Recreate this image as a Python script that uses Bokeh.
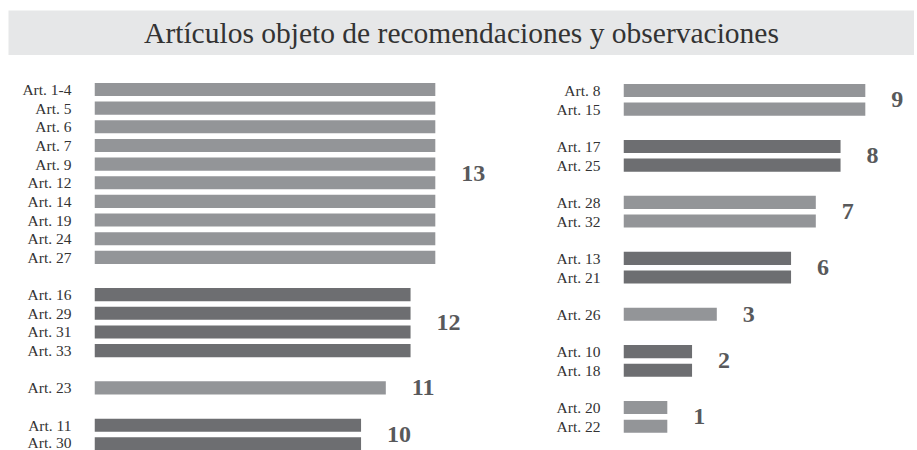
from bokeh.plotting import figure
from bokeh.layouts import column, row
from bokeh.models import Range1d, FixedTicker, ColumnDataSource
from bokeh.core.properties import value
from bokeh.embed import file_html
from bokeh.resources import INLINE

TITLE = "Artículos objeto de recomendaciones y observaciones"

left_counts = [13, 12, 11, 10]
left_articles = [
    ["Art. 1-4", "Art. 5", "Art. 6", "Art. 7", "Art. 9", "Art. 12",
     "Art. 14", "Art. 19", "Art. 24", "Art. 27"],
    ["Art. 16", "Art. 29", "Art. 31", "Art. 33"],
    ["Art. 23"],
    ["Art. 11", "Art. 30"],
]

right_counts = [9, 8, 7, 6, 3, 2, 1]
right_articles = [
    ["Art. 8", "Art. 15"],
    ["Art. 17", "Art. 25"],
    ["Art. 28", "Art. 32"],
    ["Art. 13", "Art. 21"],
    ["Art. 26"],
    ["Art. 10", "Art. 18"],
    ["Art. 20", "Art. 22"],
]

LIGHT = "#939598"
DARK = "#6d6e71"
SERIF = "Liberation Serif"
BASE = -0.77          # bars start slightly left of zero, as in the original
PX_PER_UNIT = 24.75


def make_panel(counts, articles, width, height, left_pad,
               first_row_px, row_px):
    rows, names, vals, cols = [], [], [], []
    grp_y, grp_v = [], []
    r = 0
    for gi, (c, arts) in enumerate(zip(counts, articles)):
        start = r
        for a in arts:
            rows.append(r)
            names.append(a)
            vals.append(c)
            cols.append(LIGHT if gi % 2 == 0 else DARK)
            r += 1
        grp_y.append((start + r - 1) / 2)
        grp_v.append(c)
        r += 1  # blank row between groups

    top = (0 - first_row_px) / row_px
    bottom = (height - first_row_px) / row_px
    x_end = BASE + (width - left_pad) / PX_PER_UNIT

    p = figure(width=width, height=height, toolbar_location=None,
               output_backend="svg",
               x_range=Range1d(BASE, x_end), y_range=Range1d(bottom, top),
               x_axis_location=None,
               min_border_left=left_pad, min_border_right=0,
               min_border_top=0, min_border_bottom=0,
               outline_line_color=None, background_fill_color="white",
               border_fill_color="white")
    p.grid.visible = False

    src = ColumnDataSource(dict(y=rows, v=vals, c=cols))
    p.hbar(y="y", left=BASE, right="v", height=0.7, fill_color="c",
           line_color=None, source=src)

    p.text(x=grp_v, y=grp_y, text=[str(v) for v in grp_v],
           x_offset=26, text_align="left", text_baseline="middle",
           text_font=value(SERIF), text_font_style="bold",
           text_font_size="24px", text_color="#58595b")

    ax = p.yaxis[0]
    ax.ticker = FixedTicker(ticks=rows)
    ax.major_label_overrides = {r_: n for r_, n in zip(rows, names)}
    ax.axis_line_color = None
    ax.major_tick_line_color = None
    ax.minor_tick_line_color = None
    ax.major_tick_out = 0
    ax.major_tick_in = 0
    ax.major_label_standoff = 23
    ax.major_label_text_font = SERIF
    ax.major_label_text_font_size = "15.5px"
    ax.major_label_text_color = "#333333"
    return p


# Title band
t = figure(width=914, height=55, toolbar_location=None, output_backend="svg",
           x_range=Range1d(0, 1), y_range=Range1d(0, 1),
           x_axis_location=None, y_axis_location=None,
           min_border_top=10, min_border_bottom=0, min_border_left=8,
           min_border_right=0, outline_line_color=None,
           background_fill_color="#e6e7e8", border_fill_color="white")
t.grid.visible = False
t.text(x=[0.5], y=[0.5], text=[TITLE], text_align="center",
       text_baseline="middle", text_font=value(SERIF),
       text_font_size="29.5px", text_color="#333333")

H = 395
left = make_panel(left_counts, left_articles, width=508, height=H,
                  left_pad=94, first_row_px=89 - 55, row_px=18.65)
right = make_panel(right_counts, right_articles, width=406, height=H,
                   left_pad=115, first_row_px=90 - 55, row_px=18.65)

layout = column(t, row(left, right, spacing=0), spacing=0)

open("out.html", "w").write(file_html(layout, INLINE))
